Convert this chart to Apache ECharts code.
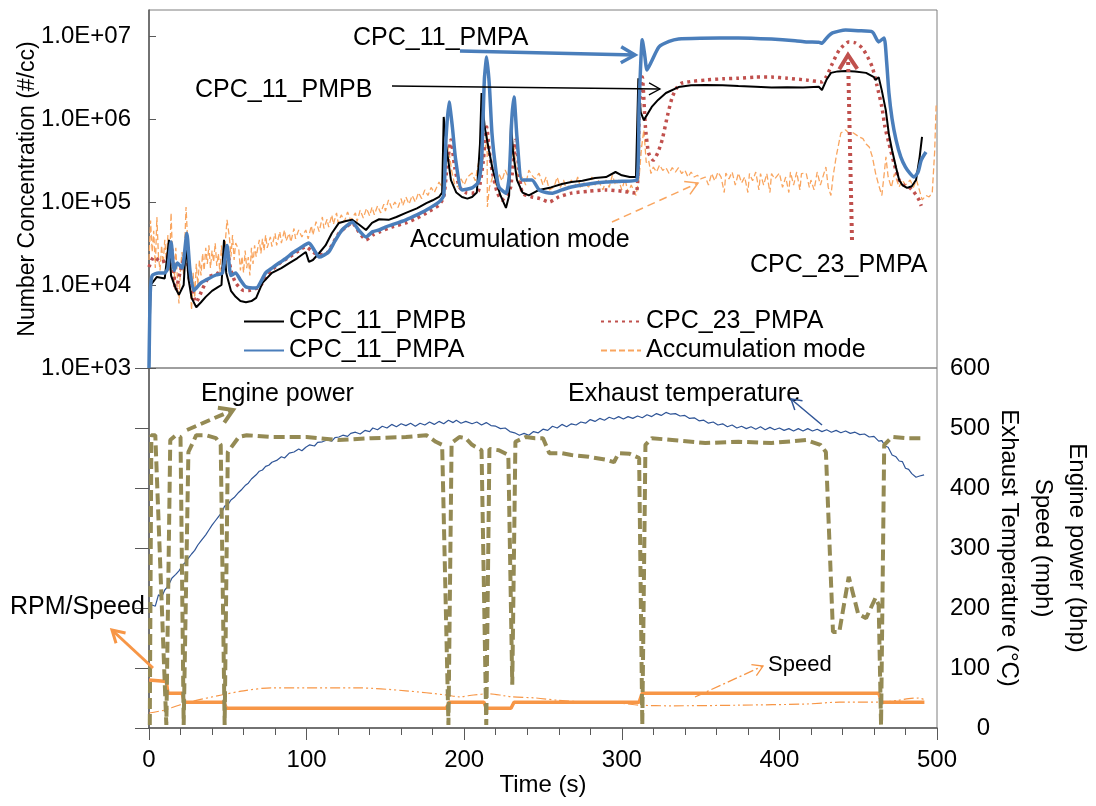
<!DOCTYPE html>
<html>
<head>
<meta charset="utf-8">
<title>Number concentration and engine parameters</title>
<script src="https://cdn.jsdelivr.net/npm/echarts@6/dist/echarts.min.js"></script>
<style>
  html, body { margin: 0; padding: 0; background: #fff; }
  #main { width: 1096px; height: 806px; }
</style>
</head>
<body>
<div id="main"></div>
<script>
// ---- data (time in s) ----
var logTicks = [1e3, 1e4, 1e5, 1e6, 1e7];

var cpc11Pmpb = [[0,1000],[1,1.0e4],[5,1.25e4],[10,1.2e4],[12.7,3.5e4],[14,1.3e4],[17,9e3],[19,7.6e3],[22,1.0e4],[23.5,3.3e4],[25,1.2e4],[27,7e3],[30,5.4e3],[33,6.2e3],[36,7.2e3],[40,8.5e3],[44,9.5e3],[46,1.0e4],[47.6,3.5e4],[49,1.4e4],[52,8.5e3],[55,7.2e3],[58,6.4e3],[61.5,6.2e3],[65,6.4e3],[68,7.0e3],[72,1.06e4],[78,1.4e4],[84,1.6e4],[89,1.84e4],[94,2.1e4],[99.5,2.5e4],[101.5,1.9e4],[104,2.0e4],[108,2.43e4],[112,3.0e4],[116,4.2e4],[120.5,5.6e4],[125,5.9e4],[129,6.1e4],[133,5.4e4],[137.7,4.6e4],[141.5,5.6e4],[146,6.2e4],[152,6.1e4],[157,6.6e4],[163,7.4e4],[170,8.4e4],[176,9.7e4],[180,1.05e5],[184,1.15e5],[186,1.3e5],[187,1.06e6],[188.5,5e5],[191.6,1.84e5],[195,1.3e5],[198.6,1.15e5],[202,1.1e5],[205,1.15e5],[208,1.3e5],[210,5e5],[211,2.06e6],[213,8e5],[215.7,4.2e5],[218,2.5e5],[220,1.84e5],[223,1.2e5],[226.5,8.5e4],[228.5,1.2e5],[229.7,9e5],[231,4e5],[233.5,1.84e5],[237,1.3e5],[241,1.2e5],[247.5,1.4e5],[255,1.5e5],[262,1.65e5],[268,1.74e5],[275,1.8e5],[283,1.95e5],[290,2.0e5],[296,2.3e5],[300,2.1e5],[305,2.0e5],[309,2.0e5],[310.5,3.1e6],[312,1.2e6],[314,9.7e5],[319,1.4e6],[323,1.7e6],[328,2.06e6],[336,2.43e6],[344,2.55e6],[353,2.57e6],[364,2.55e6],[374,2.5e6],[385,2.45e6],[395,2.4e6],[405,2.42e6],[415,2.4e6],[425,2.45e6],[427,2.24e6],[430,3.0e6],[432.7,3.6e6],[437,3.75e6],[442,3.8e6],[448,3.75e6],[455,3.6e6],[460,3.2e6],[461,2.95e6],[463,3.2e6],[465,2.2e6],[467.5,1.28e6],[469.5,6.5e5],[471.5,4.2e5],[474,2.6e5],[476,1.84e5],[478,1.6e5],[481,1.48e5],[484,1.55e5],[486.7,1.84e5],[489,3.5e5],[490.5,6.1e5]];

var cpc11Pmpa = [[0,1000],[0.8,8e3],[2,1.3e4],[6,1.4e4],[10,1.4e4],[12,1.6e4],[14,3.3e4],[16,1.5e4],[18,1.84e4],[21,1.6e4],[24,4.2e4],[26,1.5e4],[28.5,8.6e3],[33,1.06e4],[38,1.2e4],[42.5,1.32e4],[46.6,1.4e4],[49.5,3.0e4],[52,1.3e4],[55,1.4e4],[58,1.15e4],[61.5,9.5e3],[68,9.2e3],[74,1.4e4],[78,1.6e4],[82.5,1.84e4],[87,2.1e4],[91,2.43e4],[96,2.8e4],[101.5,3.2e4],[105,2.6e4],[108,2.17e4],[114,2.5e4],[118,3.4e4],[122.5,4.6e4],[129,5.7e4],[133,4.6e4],[137.7,3.8e4],[142,4.4e4],[146,4.6e4],[150,5.0e4],[154,5.3e4],[163,6.1e4],[170,7.0e4],[176,8.0e4],[184,1.0e5],[187,1.2e5],[188.5,6e5],[190.4,1.6e6],[192.5,8e5],[194.6,3.2e5],[198.6,1.4e5],[205,1.48e5],[209,1.74e5],[211,3e5],[212.8,3e6],[214.3,5.6e6],[216,2.5e6],[217.6,6.8e5],[220,2.5e5],[222,1.52e5],[226.5,1.28e5],[228.5,2e5],[230.2,1e6],[231.6,1.84e6],[233.5,6e5],[236.7,1.84e5],[243,1.84e5],[247.5,1.4e5],[252,1.3e5],[256,1.28e5],[262,1.4e5],[268,1.52e5],[279,1.65e5],[290,1.74e5],[300,1.78e5],[309.6,1.84e5],[311,1.5e6],[313,9e6],[314.5,6e6],[316,3.9e6],[319,5e6],[323.6,7.4e6],[330,8.6e6],[336,9.2e6],[350,9.4e6],[374,9.5e6],[395,9.2e6],[410,8.8e6],[417,8.5e6],[425,8.4e6],[427,8.2e6],[430,9.5e6],[433.7,1.09e7],[442,1.18e7],[450,1.16e7],[459,1.12e7],[463,8.5e6],[466.4,9.5e6],[468,5e6],[469.5,2.06e6],[471.5,1.0e6],[474,5.6e5],[477,3.5e5],[480,2.64e5],[483,2.2e5],[485.4,2.0e5],[488,2.3e5],[490,3.2e5],[493,4.0e5]];

var cpc23Pmpa = [[0,1.65e4],[3,2.17e4],[8,1.9e4],[11,2.0e4],[14,2.9e4],[17,8.6e3],[20,1.5e4],[23.5,2.43e4],[26,1.1e4],[30,6.2e3],[34,9e3],[38,1.25e4],[44,1.4e4],[47,1.6e4],[49.5,2.64e4],[52,1.5e4],[55,1.06e4],[60,8.6e3],[63.5,8.6e3],[70,9.5e3],[75,1.3e4],[78,1.52e4],[84,1.9e4],[89,2.17e4],[95,2.6e4],[99.5,2.9e4],[104,2.5e4],[108,2.3e4],[113,2.43e4],[116,3e4],[120.5,4.2e4],[125,5.0e4],[129,5.6e4],[133,4.4e4],[137.7,3.5e4],[142,4.0e4],[146,4.35e4],[154,5.0e4],[163,5.6e4],[170,6.4e4],[176,7.4e4],[184,9.2e4],[187,1.15e5],[189,2.5e5],[191.6,5.6e5],[194,2.6e5],[197,1.52e5],[201,1.3e5],[205,1.28e5],[209,1.35e5],[212,3e5],[214.3,8.0e5],[216,4e5],[218,2.23e5],[221,1.3e5],[224,1.06e5],[227,1.2e5],[229.5,1.52e5],[232.8,5.6e5],[235,2.2e5],[237,1.28e5],[243,1.15e5],[248,1.1e5],[254,1.0e5],[260,1.15e5],[268,1.28e5],[279,1.35e5],[290,1.4e5],[300,1.35e5],[309,1.28e5],[311,1.2e6],[313,3.2e6],[315,8e5],[317,3.9e5],[320,3.2e5],[323,4e5],[325.6,5.6e5],[329,1.1e6],[332,1.84e6],[335,2.4e6],[338,2.7e6],[345,2.85e6],[353,2.95e6],[364,3.05e6],[374,3.1e6],[385,3.2e6],[395,3.2e6],[405,3.1e6],[417,2.95e6],[427,2.8e6],[430,3.3e6],[433.7,4.7e6],[438,6.8e6],[444,8.5e6],[448,8.3e6],[452.5,7.2e6],[456,5.6e6],[459,4.2e6],[462,2.5e6],[465,1.4e6],[467,8e5],[469.5,5.1e5],[473,2.8e5],[476,1.84e5],[479,1.6e5],[482,1.52e5],[485,1.35e5],[488.6,1.06e5],[490,9e4]];

var accumMode = [[0,2.0e4],[1,6.0e4],[2,2.5e4],[3,4.5e4],[4,1.6e4],[5,6.6e4],[6,2.2e4],[7,1.5e4],[8,3.0e4],[9,1.8e4],[10,3.5e4],[11,2.0e4],[12,4.0e4],[13,1.5e4],[14,7.4e4],[15,2.0e4],[16,1.1e4],[17,2.8e4],[18,1.2e4],[19,6e3],[20,1.6e4],[21,2.5e4],[22,1.3e4],[23.5,8.7e4],[25,2.2e4],[26,1.2e4],[27,5.0e3],[28,1.4e4],[29,7e3],[30,1.8e4],[31,1.0e4],[32,2.0e4],[33,1.3e4],[34,2.4e4],[35,1.5e4],[36,2.8e4],[37,1.8e4],[38,3.0e4],[39,1.6e4],[40,2.6e4],[41,1.9e4],[42,3.2e4],[43,1.7e4],[44,2.4e4],[45,1.4e4],[46,3.0e4],[47,1.6e4],[48,2.6e4],[49.5,6.1e4],[51,3.8e4],[52,2.2e4],[53,4.0e4],[54,2.0e4],[55,3.2e4],[57,2.64e4],[58,1.5e4],[59,2.2e4],[60,1.4e4],[61,2.6e4],[62,1.6e4],[63,2.17e4],[64,1.3e4],[65,2.8e4],[66,1.8e4],[67,3.0e4],[68,2.2e4],[70,3.5e4],[71,2.4e4],[72,3.6e4],[73,2.6e4],[74,4.0e4],[75,2.8e4],[77,3.8e4],[78,2.9e4],[80,4.2e4],[81,3.0e4],[83,4.4e4],[84,3.2e4],[86,4.6e4],[87,3.4e4],[89,4.2e4],[90,3.3e4],[92,4.8e4],[93,3.6e4],[95,4.6e4],[97,3.8e4],[99.5,4.6e4],[101,3.6e4],[103,5.2e4],[104,4.0e4],[106,5.8e4],[108,4.4e4],[110,6.6e4],[111,4.8e4],[113,6.2e4],[114,5.0e4],[116,7.0e4],[117,5.4e4],[119,7.4e4],[120,5.6e4],[122,7.0e4],[124,5.8e4],[126,7.6e4],[128,6.0e4],[131,7.4e4],[132,5.8e4],[134,8.0e4],[136,6.4e4],[138,8.4e4],[140,6.8e4],[141.5,8.7e4],[143,7.0e4],[145,9.0e4],[147,7.4e4],[149,9.4e4],[150,7.8e4],[152,1.06e5],[154,8.4e4],[156,1.0e5],[158,8.6e4],[160,1.1e5],[161,9.0e4],[163,1.15e5],[165,9.4e4],[167,1.2e5],[169,1.0e5],[171,1.3e5],[173,1.1e5],[175,1.4e5],[177,1.2e5],[179,1.5e5],[181,1.3e5],[184,1.74e5],[186,1.5e5],[188,2.5e5],[190,4.6e5],[192,2.4e5],[194,1.6e5],[196,1.52e5],[198,1.9e5],[200,1.6e5],[202,2.0e5],[205,2.23e5],[207,1.8e5],[209,2.95e5],[211,2.6e5],[213,4.0e5],[214.5,6.8e5],[214.7,8.7e4],[216,1.5e5],[218,2.0e5],[220,1.6e5],[222,2.2e5],[224,1.8e5],[226,2.43e5],[228,2.0e5],[230,3.5e5],[231.6,4.6e5],[233,2.4e5],[235,1.8e5],[237,2.0e5],[239,1.6e5],[241,2.43e5],[243,2.1e5],[245,1.9e5],[247.5,2.23e5],[250,1.6e5],[252,2.0e5],[254,1.4e5],[257,1.52e5],[259,2.0e5],[261,1.5e5],[263,1.84e5],[265,1.4e5],[268,1.84e5],[270,1.5e5],[272,2.0e5],[274,1.45e5],[276,1.7e5],[279,1.52e5],[281,2.0e5],[283,1.6e5],[285,1.84e5],[288,1.4e5],[290,1.84e5],[292,1.5e5],[294,2.1e5],[296,1.6e5],[298,1.84e5],[300,1.4e5],[302,1.9e5],[304,1.3e5],[306,1.6e5],[309,1.2e5],[311,2.0e5],[312.5,4.5e5],[314,7.4e5],[315.5,3.0e5],[317,3.2e5],[318.5,2.2e5],[320,2.64e5],[322,2.3e5],[324,2.8e5],[326,2.4e5],[328,2.6e5],[330,2.2e5],[332,2.6e5],[334,2.3e5],[336,2.6e5],[338,2.2e5],[340,2.43e5],[342,2.0e5],[344,2.3e5],[346,2.0e5],[348,2.1e5],[350,1.9e5],[353,2.0e5],[355,1.6e5],[357,2.2e5],[359,1.8e5],[361,2.3e5],[363,2.0e5],[365,1.3e5],[366,2.23e5],[368,1.9e5],[370,2.3e5],[372,1.6e5],[374,2.23e5],[376,1.7e5],[378,2.0e5],[380,1.3e5],[381,2.2e5],[383,1.8e5],[385,2.3e5],[387,1.4e5],[388,2.2e5],[390,1.6e5],[392,2.2e5],[394,1.3e5],[395,2.2e5],[397,1.9e5],[400,2.23e5],[402,1.5e5],[404,2.0e5],[406,1.3e5],[407,2.3e5],[409,1.6e5],[411,2.3e5],[413,1.4e5],[414,2.2e5],[417,2.23e5],[419,1.5e5],[420,1.84e5],[422,1.4e5],[424,2.3e5],[426,1.6e5],[429.5,2.64e5],[431,1.5e5],[432.7,1.2e5],[434,2.0e5],[436,3.5e5],[439,6.8e5],[442,7.4e5],[444,6.8e5],[447,6.8e5],[450.5,6.1e5],[453,5.8e5],[455,5.0e5],[457,4.6e5],[459,3.5e5],[461,2.23e5],[463,1.6e5],[465,1.2e5],[466.5,2.2e5],[467.6,3.5e5],[469,2.0e5],[471,1.5e5],[473,2.2e5],[476,1.52e5],[478,1.84e5],[480,1.6e5],[483,1.84e5],[485,1.5e5],[487,1.84e5],[490.6,1.06e5],[493,1.2e5],[495,1.15e5],[497,1.3e5],[498.5,4e5],[499.5,1.56e6]];

var enginePower = [[0.5,5],[1.5,488],[4,488],[11,5],[13.5,480],[17,488],[20,485],[22,5],[25,460],[30,488],[36,488],[42.5,483],[45.5,472],[48,5],[50,460],[57,485],[62,488],[78,485],[100,485],[120,480],[141,483],[163,485],[176,488],[182,477],[186,472],[190,5],[192,475],[197,485],[201,483],[205,472],[211,463],[214,5],[216,465],[222,463],[228,455],[230.5,72],[232.5,477],[239,485],[245,483],[250,483],[254,458],[262,458],[268,455],[279,452],[290,447],[295,443],[298,458],[305,457],[311,450],[313,5],[315,472],[319,483],[332,480],[353,475],[374,477],[395,475],[417,480],[426,472],[429.5,460],[434,160],[438,160],[444,252],[450,190],[455,183],[461,217],[463,205],[464.5,5],[466.5,472],[471.5,485],[480,483],[491,483]];

var exhaustTemp = [[0,200],[2,205],[4,203],[6,222],[8,218],[10,230],[12,236],[14.6,250],[17,256],[19,262],[21,270],[23,276],[25,283],[27,290],[29,296],[31,305],[33,312],[36,322],[38,330],[40,338],[42,345],[44,352],[46.3,360],[48,370],[50,372],[52,380],[54,384],[57,393],[59,398],[61,404],[63,408],[65,415],[68,422],[70,428],[72,430],[74,436],[76,438],[78,443],[81,446],[84,452],[86,450],[89,458],[92,460],[95,465],[97,462],[99.5,468],[102,472],[105,470],[107,476],[110,477],[113,480],[116,478],[118,484],[120.5,485],[123,488],[126,486],[128,491],[131,493],[134,490],[137,496],[140,494],[142,500],[145,497],[148,503],[151,500],[154,506],[157,502],[160,507],[163,504],[166,508],[169,503],[172,508],[175,505],[178,510],[181,506],[184,511],[187,507],[190,513],[193,509],[195,513],[198,508],[201,511],[205,507],[208,510],[211,505],[214,509],[217,504],[220,503],[223,499],[226,500],[229,494],[232,492],[235,488],[238,491],[241,488],[244,494],[247,492],[250,498],[253,496],[256,503],[259,500],[262,506],[265,502],[268,507],[271,505],[274,510],[277,508],[280,514],[283,511],[286,516],[289,513],[292,518],[295,515],[298,519],[301,515],[304,519],[307,516],[310,520],[313,517],[316,522],[319,519],[322,524],[325,521],[328,526],[331,523],[334,524],[337,520],[340,521],[343,516],[346,517],[349,512],[352,513],[355,508],[358,510],[361,505],[364,507],[367,502],[370,505],[373,500],[376,503],[379,499],[382,502],[385,498],[388,502],[391,497],[394,501],[397,497],[400,500],[403,496],[406,499],[409,495],[412,499],[415,495],[418,499],[421,495],[424,498],[427,494],[430,497],[433,493],[436,496],[439,492],[442,495],[445,491],[448,493],[451,489],[454,490],[457,485],[460,486],[463,478],[465,479],[467,470],[469,468],[471.5,455],[474,452],[476,445],[478,444],[480,433],[482,431],[484,424],[486.7,418],[489,420],[491.8,422]];

var rpmSpeed = [[0,80],[9.5,78],[11,78],[12,58],[21,58],[22.5,43],[47.6,43],[49,33],[188.6,33],[190.5,43],[212.5,43],[214,33],[229.7,33],[231.6,43],[311,43],[313,58],[463,58],[465,43],[492,43]];

var vehicleSpeed = [[0,25],[10,30],[19,38],[30,46],[46,55],[60,62],[78,67],[99.5,67],[131,67],[163,62],[188.6,55],[196.7,52],[206,55],[215.7,57],[225,54],[230,52],[245.6,50],[260,46],[280,43],[300,41],[311,38],[332,37],[374,38],[417,40],[438,43],[463,43],[475,46],[482,49],[488.6,50],[492,47]];

var FONT = "'Liberation Sans', Arial, sans-serif";
var AXIS_GREY = '#595959';

// annotation arrow: line + open chevron head
function arrow(x1, y1, x2, y2, color, width, dash, hl, hw) {
    var a = Math.atan2(y2 - y1, x2 - x1);
    var bx = x2 - hl * Math.cos(a), by = y2 - hl * Math.sin(a);
    var px = -Math.sin(a) * hw, py = Math.cos(a) * hw;
    return [
        { type: 'line', silent: true, z: 100, shape: { x1: x1, y1: y1, x2: x2, y2: y2 },
          style: { stroke: color, lineWidth: width, lineDash: dash || null } },
        { type: 'polyline', silent: true, z: 100, shape: { points: [[bx + px, by + py], [x2, y2], [bx - px, by - py]] },
          style: { stroke: color, lineWidth: width, fill: null } }
    ];
}
function label(text, x, y, size) {
    return { type: 'text', silent: true, z: 100, x: x, y: y,
        style: { text: text, font: (size || 25) + 'px ' + FONT, fill: '#000', verticalAlign: 'middle' } };
}

var graphics = [].concat(
    label('CPC_11_PMPA', 353, 38),
    arrow(460, 51, 635, 55, '#4a7ebb', 3.5, null, 14, 8),
    label('CPC_11_PMPB', 195, 90),
    arrow(392, 86, 660, 89, '#000', 1.3, null, 11, 6),
    label('Accumulation mode', 410, 240),
    arrow(612, 222, 698, 183, '#f9a55f', 1.5, [8, 5], 12, 7),
    label('CPC_23_PMPA', 750, 265),
    arrow(852, 240, 848, 55, '#c0504d', 4, [3, 4], 14, 9),
    label('Engine power', 201, 394),
    arrow(187, 430, 233, 410, '#948a54', 4, [10, 5], 13, 8),
    label('Exhaust temperature', 568, 394),
    arrow(822, 425, 791, 399, '#2f5597', 1.5, null, 10, 6),
    label('RPM/Speed', 10, 607),
    arrow(153, 668, 112, 630, '#f79646', 3, null, 12, 7),
    label('Speed', 768, 665, 22),
    arrow(695, 697, 763, 666, '#f79646', 1.3, [10, 3, 2, 3], 10, 6)
);

var legendCommon = {
    orient: 'vertical', itemGap: 4, itemWidth: 40, itemHeight: 14, selectedMode: false,
    itemStyle: { opacity: 0 },
    textStyle: { fontSize: 25, color: '#000', fontFamily: FONT }
};

var chart = echarts.init(document.getElementById('main'));
var option = {
    animation: false,
    backgroundColor: '#fff',
    textStyle: { fontFamily: FONT },
    grid: [
        { left: 149, right: 159, top: 10, height: 358, show: true, borderColor: '#7f7f7f', borderWidth: 1, outerBoundsMode: 'none', containLabel: false },
        { left: 149, right: 159, top: 368, height: 360, show: true, borderColor: '#7f7f7f', borderWidth: 1, outerBoundsMode: 'none', containLabel: false }
    ],
    legend: [
        Object.assign({ left: 238, top: 304, data: ['CPC_11_PMPB', 'CPC_11_PMPA'] }, legendCommon),
        Object.assign({ left: 595, top: 304, data: ['CPC_23_PMPA', 'Accumulation mode'] }, legendCommon)
    ],
    xAxis: [
        { type: 'value', gridIndex: 0, min: 0, max: 500, interval: 100,
          axisLine: { show: false }, axisTick: { show: false }, axisLabel: { show: false }, splitLine: { show: false } },
        { type: 'value', gridIndex: 1, min: 0, max: 500, interval: 100,
          name: 'Time (s)', nameLocation: 'middle', nameGap: 45, nameMoveOverlap: false,
          nameTextStyle: { fontSize: 24, color: '#000', fontFamily: FONT },
          axisLine: { show: true, lineStyle: { color: AXIS_GREY, width: 1.5 } },
          axisTick: { show: true, length: 12, lineStyle: { color: AXIS_GREY } },
          minorTick: { show: true, splitNumber: 5, length: 7, lineStyle: { color: AXIS_GREY } },
          axisLabel: { fontSize: 24, color: '#000', margin: 20, fontFamily: FONT },
          splitLine: { show: false } }
    ],
    yAxis: [
        { type: 'log', gridIndex: 0, logBase: 10, min: 1000, max: 2.06e7,
          name: 'Number Concentration (#/cc)', nameLocation: 'middle', nameGap: 110, nameMoveOverlap: false,
          nameTextStyle: { fontSize: 23, color: '#000', fontFamily: FONT },
          axisLine: { show: true, lineStyle: { color: AXIS_GREY, width: 1.5 } },
          axisTick: { show: true, inside: true, length: 7, customValues: logTicks, lineStyle: { color: AXIS_GREY } },
          axisLabel: { fontSize: 24, color: '#000', margin: 18, fontFamily: FONT, customValues: logTicks,
              formatter: function (v) {
                  var e = Math.round(Math.log10(v));
                  if (Math.abs(Math.log10(v) - e) > 1e-6) return '';
                  return '1.0E+' + (e < 10 ? '0' : '') + e;
              } },
          splitLine: { show: false } },
        { type: 'value', gridIndex: 1, position: 'right', min: 0, max: 600, interval: 100,
          name: 'Engine power (bhp)\nSpeed (mph)\nExhaust Temperature (°C)',
          nameLocation: 'middle', nameRotate: -90, nameGap: 55, nameMoveOverlap: false,
          nameTextStyle: { fontSize: 24, lineHeight: 34, color: '#000', fontFamily: FONT, align: 'center' },
          axisLine: { show: true, lineStyle: { color: AXIS_GREY, width: 1.5 } },
          axisTick: { show: true, inside: true, length: 14, lineStyle: { color: AXIS_GREY } },
          axisLabel: { fontSize: 24, color: '#000', margin: 53, align: 'right', fontFamily: FONT },
          splitLine: { show: false } }
    ],
    series: [
        { name: 'Accumulation mode', type: 'line', xAxisIndex: 0, yAxisIndex: 0, data: accumMode,
          symbol: 'none', lineStyle: { color: '#f9a55f', width: 1.3, type: [6, 3] }, itemStyle: { color: '#f9a55f' } },
        { name: 'CPC_23_PMPA', type: 'line', xAxisIndex: 0, yAxisIndex: 0, data: cpc23Pmpa,
          symbol: 'none', smooth: 0.2, lineStyle: { color: '#c0504d', width: 3.5, type: [3, 4] }, itemStyle: { color: '#c0504d' } },
        { name: 'CPC_11_PMPB', type: 'line', xAxisIndex: 0, yAxisIndex: 0, data: cpc11Pmpb,
          symbol: 'none', lineStyle: { color: '#000', width: 2 }, itemStyle: { color: '#000' } },
        { name: 'CPC_11_PMPA', type: 'line', xAxisIndex: 0, yAxisIndex: 0, data: cpc11Pmpa,
          symbol: 'none', smooth: 0.2, lineStyle: { color: '#4a7ebb', width: 3.5 }, itemStyle: { color: '#4a7ebb' } },

        { name: 'Speed', type: 'line', xAxisIndex: 1, yAxisIndex: 1, data: vehicleSpeed,
          symbol: 'none', smooth: 0.3, lineStyle: { color: '#f79646', width: 1.2, type: [10, 3, 2, 3, 2, 3] } },
        { name: 'Exhaust temperature', type: 'line', xAxisIndex: 1, yAxisIndex: 1, data: exhaustTemp,
          symbol: 'none', lineStyle: { color: '#2f5597', width: 1.2 } },
        { name: 'RPM/Speed', type: 'line', xAxisIndex: 1, yAxisIndex: 1, data: rpmSpeed,
          symbol: 'none', lineStyle: { color: '#f79646', width: 3.5 } },
        { name: 'Engine power', type: 'line', xAxisIndex: 1, yAxisIndex: 1, data: enginePower,
          symbol: 'none', lineStyle: { color: '#948a54', width: 4, type: [11, 5] } }
    ],
    graphic: graphics
};
chart.setOption(option);
</script>
</body>
</html>
